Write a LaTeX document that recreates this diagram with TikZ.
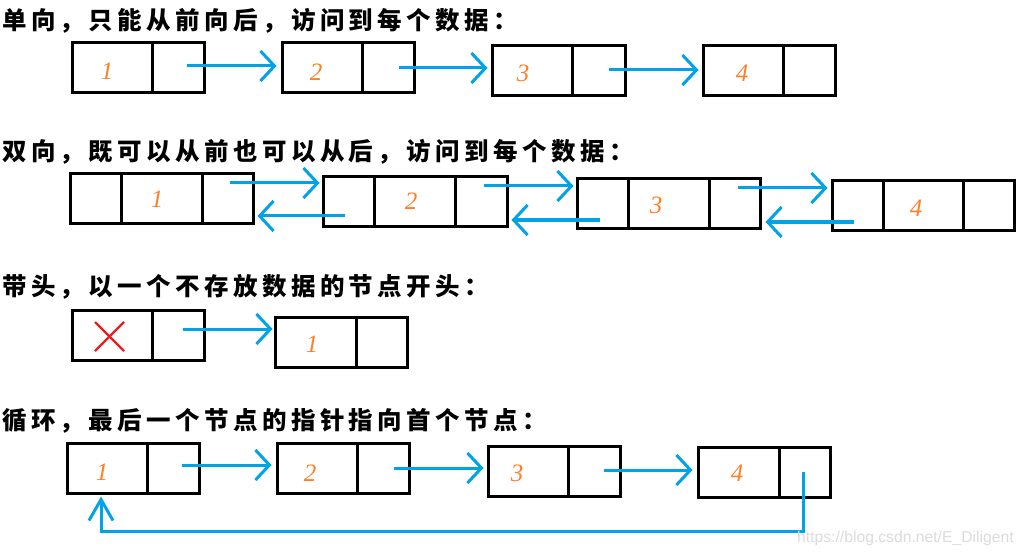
\documentclass[tikz,border=0pt]{standalone}
\usepackage{fontspec}
\newfontfamily\cjk{Noto Sans CJK SC}
\newfontfamily\numfont{Liberation Serif}
\newfontfamily\wmfont{Liberation Sans}
\usetikzlibrary{arrows.meta,calc}
\definecolor{linkblue}{HTML}{00A2E8}
\definecolor{numorange}{HTML}{FF7F27}
\definecolor{crossred}{HTML}{ED1C24}
\definecolor{wmgray}{HTML}{DCDCDC}
\makeatletter
\newcommand\spacedcjk[1]{\@tfor\cjkch:=#1\do{\makebox[28.9pt][l]{\cjkch}}}
\makeatother
\begin{document}
\begin{tikzpicture}[x=1pt,y=-1pt,
  lcell/.style={draw=black, line width=3pt, inner sep=0pt, minimum height=50pt, minimum width=#1},
  numtxt/.style={inner sep=0pt, text=numorange, font=\numfont\itshape\fontsize{25}{25}\selectfont},
  title/.style={anchor=base west, inner sep=0pt, font=\cjk\bfseries\fontsize{24.5}{24.5}\selectfont},
  link/.style={draw=linkblue, line width=3pt, -{Straight Barb[length=14pt,width=30pt]}},
  backlink/.style={draw=linkblue, line width=3pt, -{Straight Barb[length=21pt,width=24pt]}},
  cross/.style={draw=crossred, line width=2.2pt}
]
\fill[white] (0,0) rectangle (1033,556);
\useasboundingbox (0,0) rectangle (1033,556);

% ---------- titles ----------
\node[title] (t1) at (2,30) {\spacedcjk{单向，只能从前向后，访问到每个数据：}};
\node[title] (t2) at (2,161) {\spacedcjk{双向，既可以从前也可以从后，访问到每个数据：}};
\node[title] (t3) at (2,295.5) {\spacedcjk{带头，以一个不存放数据的节点开头：}};
\node[title] (t4) at (2,429) {\spacedcjk{循环，最后一个节点的指针指向首个节点：}};

% ---------- row 1: singly linked ----------
\node[lcell=80] (s1d) at (112,68) {};
\node[lcell=52] (s1p) at (178,68) {};
\node[lcell=80] (s2d) at (322,68) {};
\node[lcell=52] (s2p) at (388,68) {};
\node[lcell=80] (s3d) at (532,71) {};
\node[lcell=53] (s3p) at (598.5,71) {};
\node[lcell=80] (s4d) at (743,71) {};
\node[lcell=52] (s4p) at (809,71) {};
\node[numtxt] (n11) at (107,71) {1};
\node[numtxt] (n12) at (316,72) {2};
\node[numtxt] (n13) at (523,73) {3};
\node[numtxt] (n14) at (742,73) {4};
\draw[link] ($(s1p.center)+(9,-2)$) -- ($(s1p.center -| s2d.west)+(-4,-2)$);
\draw[link] ($(s2p.center)+(11,0)$) -- ($(s2p.center -| s3d.west)+(-3,0)$);
\draw[link] ($(s3p.center)+(10,-1)$) -- ($(s3p.center -| s4d.west)+(-3,-1)$);

% ---------- row 2: doubly linked ----------
\begin{scope}[every node/.append style={minimum height=49pt}]
\node[lcell=51] (d1l) at (95.5,198.5) {};
\node[lcell=81] (d1m) at (161.5,198.5) {};
\node[lcell=51] (d1r) at (227.5,198.5) {};
\node[lcell=51] (d2l) at (348.5,201.5) {};
\node[lcell=81] (d2m) at (414.5,201.5) {};
\node[lcell=52] (d2r) at (481,201.5) {};
\node[lcell=51] (d3l) at (602.5,203.5) {};
\node[lcell=81] (d3m) at (668.5,203.5) {};
\node[lcell=51] (d3r) at (734.5,203.5) {};
\node[lcell=51] (d4l) at (857.5,205.5) {};
\node[lcell=80] (d4m) at (923,205.5) {};
\node[lcell=51] (d4r) at (988.5,205.5) {};
\end{scope}
\node[numtxt] (n21) at (157,199) {1};
\node[numtxt] (n22) at (411,201) {2};
\node[numtxt] (n23) at (656,205) {3};
\node[numtxt] (n24) at (916,208) {4};
\draw[link] ($(d1r.center)+(2.5,-15.5)$) -- ($(d1r.center -| d2l.west)+(-2,-15.5)$);
\draw[link] ($(d2r.center)+(3,-15.5)$) -- ($(d2r.center -| d3l.west)+(-2,-15.5)$);
\draw[link] ($(d3r.center)+(3.5,-15.5)$) -- ($(d3r.center -| d4l.west)+(-3,-15.5)$);
\draw[link] ($(d2l.center)+(-3.5,14.5)$) -- ($(d2l.center -| d1r.east)+(3,14.5)$);
\draw[link] ($(d3l.center)+(-2.5,16.5)$) -- ($(d3l.center -| d2r.east)+(3,16.5)$);
\draw[link] ($(d4l.center)+(-3.5,16.5)$) -- ($(d4l.center -| d3r.east)+(4,16.5)$);

% ---------- row 3: with head ----------
\node[lcell=80] (h0d) at (112,335) {};
\node[lcell=52] (h0p) at (178,335) {};
\node[lcell=81] (h1d) at (315.5,342) {};
\node[lcell=51] (h1p) at (381.5,342) {};
\node[numtxt] (n31) at (312,344) {1};
\draw[cross] ($(h0d.center)+(-17,-13)$) -- ($(h0d.center)+(12,16)$);
\draw[cross] ($(h0d.center)+(12,-13)$) -- ($(h0d.center)+(-17,16)$);
\draw[link] ($(h0p.center)+(5,-6)$) -- ($(h0p.center -| h1d.west)+(-1,-6)$);

% ---------- row 4: circular ----------
\node[lcell=80] (c1d) at (107,468) {};
\node[lcell=52] (c1p) at (173,468) {};
\node[lcell=80] (c2d) at (317,468) {};
\node[lcell=52] (c2p) at (383,468) {};
\node[lcell=80] (c3d) at (528,471) {};
\node[lcell=52] (c3p) at (594,471) {};
\node[lcell=81] (c4d) at (738.5,472) {};
\node[lcell=51] (c4p) at (804.5,472) {};
\node[numtxt] (n41) at (102,472) {1};
\node[numtxt] (n42) at (310,473) {2};
\node[numtxt] (n43) at (517,473) {3};
\node[numtxt] (n44) at (737,473) {4};
\draw[link] ($(c1p.center)+(9,-3)$) -- ($(c1p.center -| c2d.west)+(-4,-3)$);
\draw[link] ($(c2p.center)+(11,0)$) -- ($(c2p.center -| c3d.west)+(-3,0)$);
\draw[link] ($(c3p.center)+(10,-1)$) -- ($(c3p.center -| c4d.west)+(-4,-1)$);
\draw[backlink] ($(c4p.center)+(-1.5,0)$) -- ++(0,59) -| ($(c1d.south)+(-6,2)$);

% ---------- watermark ----------
\node[anchor=west, inner sep=0pt, text=wmgray, font=\wmfont\fontsize{15.7}{15.7}\selectfont] (wm) at (797,538) {https://blog.csdn.net/E\_Diligent};
\end{tikzpicture}
\end{document}
